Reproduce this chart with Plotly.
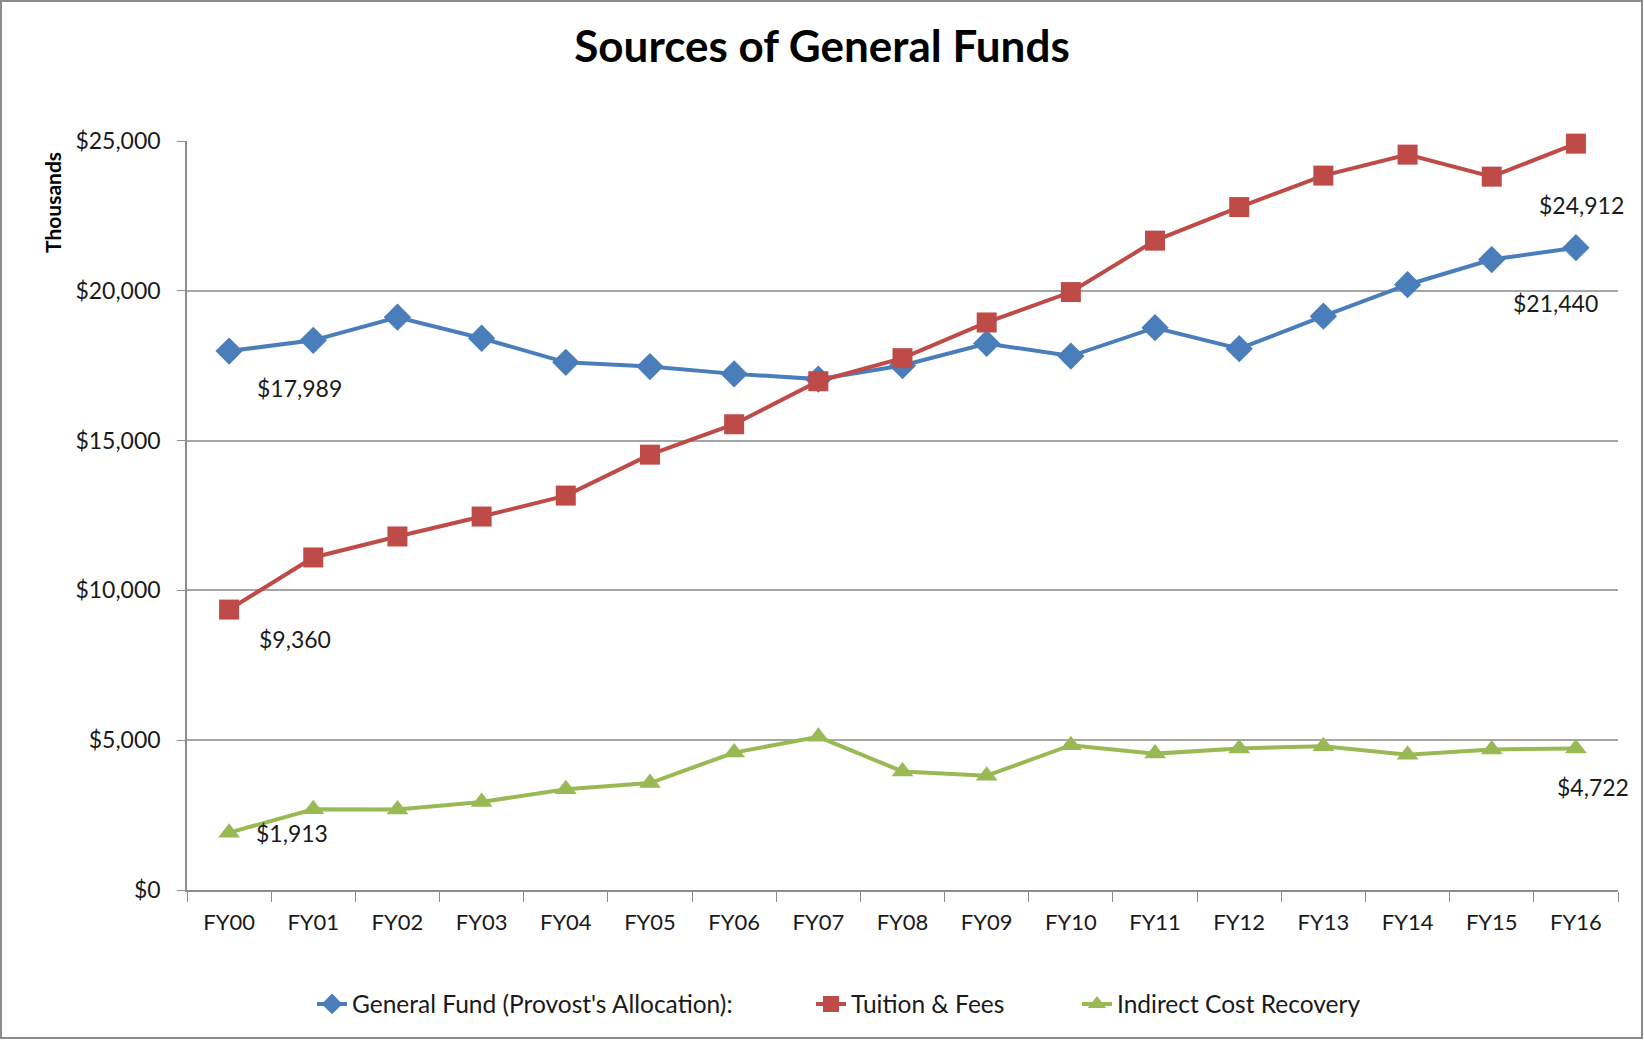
import plotly.graph_objects as go

# Fiscal years and the three revenue streams (in thousands of dollars)
years = ["FY00", "FY01", "FY02", "FY03", "FY04", "FY05", "FY06", "FY07", "FY08",
         "FY09", "FY10", "FY11", "FY12", "FY13", "FY14", "FY15", "FY16"]
general_fund = [17989, 18347, 19118, 18417, 17612, 17472, 17227, 17052, 17507,
                18242, 17822, 18768, 18067, 19153, 20203, 21043, 21440]
tuition_fees = [9360, 11099, 11800, 12465, 13165, 14531, 15546, 16982, 17752,
                18943, 19958, 21674, 22794, 23845, 24545, 23810, 24912]
indirect_cost = [1913, 2696, 2690, 2941, 3361, 3571, 4587, 5112, 3957,
                 3817, 4832, 4552, 4727, 4797, 4517, 4692, 4722]
y_ticks = [0, 5000, 10000, 15000, 20000, 25000]

FONT = "Lato, 'Open Sans', sans-serif"
TXT = "#1a1a1a"
W, H = 1644, 1040
L, R, T, B = 187, 26, 141, 150
pw, ph = W - L - R, H - T - B


def px_x(p):
    return (p - L) / pw


def px_y(p):
    return (H - B - p) / ph


fig = go.Figure()
series = [
    ("General Fund (Provost's Allocation):", general_fund, "#4A7EBB", "diamond", 21, "legend", 318),
    ("Tuition & Fees", tuition_fees, "#BE4B48", "square", 20, "legend2", 817),
    ("Indirect Cost Recovery", indirect_cost, "#98B954", "triangle-up", 19, "legend3", 1083),
]
legend_layouts = {}
for name, vals, color, sym, size, leg, lx in series:
    fig.add_trace(go.Scatter(
        x=years, y=vals, name=name, mode="lines+markers",
        line=dict(color=color, width=4),
        marker=dict(symbol=sym, size=size, color=color, line=dict(width=0)),
        hoverinfo="x+y", legend=leg, cliponaxis=False,
    ))
    legend_layouts[leg] = dict(
        orientation="h", x=px_x(lx - 6), xanchor="left", y=px_y(1004),
        yanchor="middle", font=dict(family=FONT, size=24.5, color=TXT),
        bgcolor="rgba(0,0,0,0)",
    )

# Value labels on the first and last points of each series
labels = [
    (0, general_fund, 70, -37),
    (0, tuition_fees, 66, -29),
    (0, indirect_cost, 63, 0),
    (-1, tuition_fees, 6, -61),
    (-1, general_fund, -20, -55),
    (-1, indirect_cost, 17, -38),
]
for idx, vals, dx, dy in labels:
    fig.add_annotation(
        x=years[idx], y=vals[idx], text=f"${vals[idx]:,}", showarrow=False,
        xshift=dx, yshift=dy, font=dict(family=FONT, size=23, color=TXT),
    )

# Rotated axis caption near the top of the value axis
fig.add_annotation(
    xref="paper", yref="paper", x=px_x(52), y=px_y(203),
    xanchor="center", yanchor="middle",
    text="<b>Thousands</b>", textangle=-90, showarrow=False,
    font=dict(family=FONT, size=21, color="black"),
)

# Outer frame around the chart
fig.add_shape(
    type="rect", xref="paper", yref="paper",
    x0=px_x(1), x1=px_x(W - 2), y0=px_y(H - 2), y1=px_y(1),
    line=dict(color="#8c8c8c", width=2), layer="below",
)

fig.update_layout(
    width=W, height=H,
    margin=dict(l=L, r=R, t=T, b=B, autoexpand=False),
    paper_bgcolor="white", plot_bgcolor="white",
    title=dict(text="<b>Sources of General Funds</b>", x=0.5, xanchor="center",
               y=1 - 47 / H, yanchor="middle",
               font=dict(family=FONT, size=44, color="black")),
    font=dict(family=FONT, size=20, color=TXT),
    showlegend=True,
    xaxis=dict(
        type="category", range=[-0.5, len(years) - 0.5],
        tickson="boundaries", ticks="outside", ticklen=10,
        tickcolor="#8c8c8c", showline=True, linecolor="#8c8c8c", linewidth=1.5,
        showgrid=False, ticklabelstandoff=12,
        tickfont=dict(family=FONT, size=22, color=TXT),
    ),
    yaxis=dict(
        range=[0, 25000], tickvals=y_ticks,
        ticktext=[f"${v:,}" for v in y_ticks],
        ticks="outside", ticklen=8, tickcolor="#8c8c8c",
        showline=True, linecolor="#8c8c8c", linewidth=1.5,
        showgrid=True, gridcolor="#a6a6a6", gridwidth=1.5,
        zeroline=False, ticklabelstandoff=12,
        tickfont=dict(family=FONT, size=23, color=TXT),
    ),
    **legend_layouts,
)

fig.write_html("out.html")
